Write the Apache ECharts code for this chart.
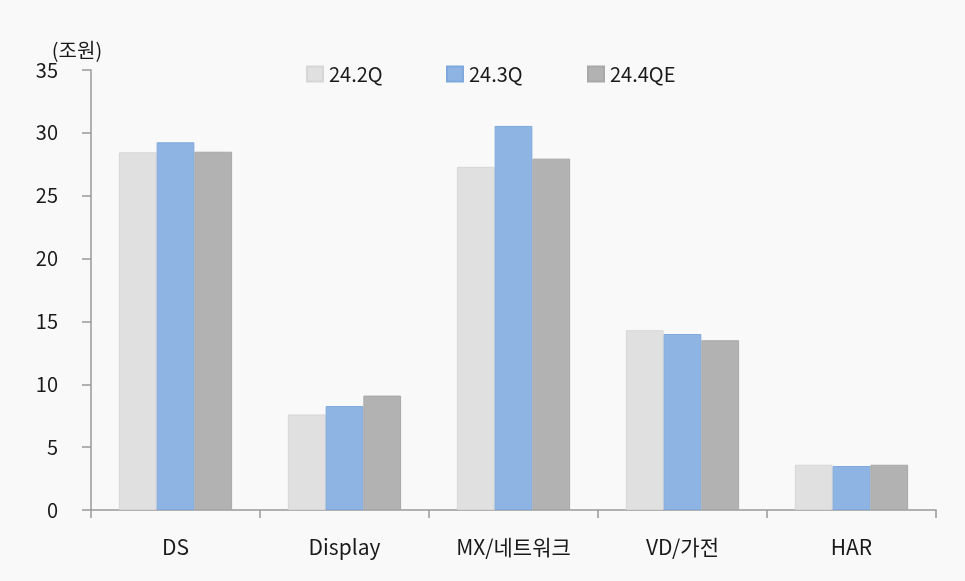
<!DOCTYPE html>
<html><head><meta charset="utf-8">
<script src="https://cdn.jsdelivr.net/npm/echarts@6/dist/echarts.min.js"></script>
<style>html,body{margin:0;padding:0;background:#f9f9f9;}#c{width:965px;height:581px;}</style>
</head><body><div id="c"></div>
<script>
const categories = ['DS', 'Display', 'MX/네트워크', 'VD/가전', 'HAR'];
const seriesNames = ['24.2Q', '24.3Q', '24.4QE'];
const q2 = [28.45, 7.6, 27.3, 14.3, 3.6];
const q3 = [29.25, 8.27, 30.55, 14.0, 3.5];
const q4e = [28.5, 9.1, 27.95, 13.5, 3.6];
const colors = ['#e0e0e0', '#8db4e2', '#b2b2b2'];
const borders = ['#d6d6d6', '#7fa9dc', '#a8a8a8'];
const font = '"Noto Sans CJK KR", "Noto Sans", sans-serif';
const chart = echarts.init(document.getElementById('c'));
const data = [q2, q3, q4e];
const legendLefts = [306, 446, 587];
chart.setOption({
  backgroundColor: '#f9f9f9',
  animation: false,
  textStyle: {fontFamily: font},
  legend: seriesNames.map((n, i) => ({
    top: 64, left: legendLefts[i], padding: 0, itemWidth: 16, itemHeight: 15,
    icon: 'rect',
    textStyle: {fontSize: 20, color: '#1a1a1a', fontFamily: font, padding: [0, 0, 0, 1]},
    data: [n]
  })),
  grid: {left: 91, right: 29, top: 70, bottom: 71},
  xAxis: {
    type: 'category', data: categories,
    axisLine: {lineStyle: {color: '#999', width: 1.5}},
    axisTick: {show: true, length: 8, lineStyle: {color: '#999', width: 1.5}},
    axisLabel: {color: '#1a1a1a', fontSize: 21, margin: 27, fontFamily: font}
  },
  yAxis: {
    type: 'value', min: 0, max: 35, interval: 5,
    name: '(조원)', nameLocation: 'end', nameGap: 10,
    nameTextStyle: {color: '#1a1a1a', fontSize: 20, align: 'center', padding: [0, 0, 0, -28], fontFamily: font},
    splitLine: {show: false},
    axisLine: {show: true, lineStyle: {color: '#999', width: 1.5}},
    axisTick: {show: true, length: 9, lineStyle: {color: '#999', width: 1.5}},
    axisLabel: {color: '#1a1a1a', fontSize: 20, margin: 33, fontFamily: font}
  },
  series: seriesNames.map((n, i) => ({
    name: n, type: 'bar', data: data[i],
    barGap: '0%', barCategoryGap: '33%',
    itemStyle: {color: colors[i], borderColor: borders[i], borderWidth: 1}
  }))
});
</script></body></html>
